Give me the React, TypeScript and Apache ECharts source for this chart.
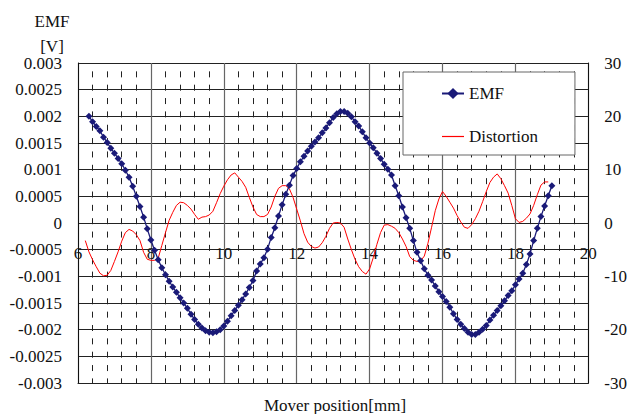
import React, { useEffect, useRef } from "react";
import * as echarts from "echarts";

const positions = [
  6.2, 6.3, 6.4, 6.5, 6.6, 6.7, 6.8, 6.9, 7.0, 7.1, 7.2, 7.3, 7.4, 7.5, 7.6, 7.7, 7.8, 7.9,
  8.0, 8.1, 8.2, 8.3, 8.4, 8.5, 8.6, 8.7, 8.8, 8.9, 9.0, 9.1, 9.2, 9.3, 9.4, 9.5, 9.6, 9.7,
  9.8, 9.9, 10.0, 10.1, 10.2, 10.3, 10.4, 10.5, 10.6, 10.7, 10.8, 10.9, 11.0, 11.1, 11.2,
  11.3, 11.4, 11.5, 11.6, 11.7, 11.8, 11.9, 12.0, 12.1, 12.2, 12.3, 12.4, 12.5, 12.6, 12.7,
  12.8, 12.9, 13.0, 13.1, 13.2, 13.3, 13.4, 13.5, 13.6, 13.7, 13.8, 13.9, 14.0, 14.1, 14.2,
  14.3, 14.4, 14.5, 14.6, 14.7, 14.8, 14.9, 15.0, 15.1, 15.2, 15.3, 15.4, 15.5, 15.6, 15.7,
  15.8, 15.9, 16.0, 16.1, 16.2, 16.3, 16.4, 16.5, 16.6, 16.7, 16.8, 16.9, 17.0, 17.1, 17.2,
  17.3, 17.4, 17.5, 17.6, 17.7, 17.8, 17.9, 18.0, 18.1, 18.2, 18.3, 18.4, 18.5, 18.6, 18.7,
  18.8, 18.9, 19.0,
];

const emfValues = [
  null,
  0.002, 0.0019, 0.00181, 0.00173, 0.00161, 0.00151, 0.0014, 0.00131, 0.00121, 0.00111,
  0.00099, 0.00086, 0.00069, 0.0005, 0.00031, 0.00011, -0.00011, -0.00032, -0.00051, -0.00069,
  -0.00084, -0.00097, -0.00109, -0.0012, -0.0013, -0.0014, -0.0015, -0.0016, -0.00171, -0.00181,
  -0.0019, -0.00197, -0.00202, -0.00205, -0.00206, -0.00204, -0.002, -0.00193, -0.00184, -0.00174,
  -0.00164, -0.00154, -0.00144, -0.00133, -0.00121, -0.00108, -0.0009, -0.00077, -0.00065, -0.00049,
  -0.00027, -0.00009, 0.00013, 0.00034, 0.00054, 0.00071, 0.00089, 0.00102, 0.00115, 0.00125,
  0.00135, 0.00144, 0.00152, 0.0016, 0.00169, 0.00178, 0.00188, 0.00198, 0.00205, 0.00209,
  0.00209, 0.00206, 0.00199, 0.0019, 0.00182, 0.00171, 0.0016, 0.0015, 0.00141, 0.00131,
  0.00121, 0.0011, 0.00101, 0.0009, 0.0007, 0.00051, 0.0003, 0.0001, -0.0001, -0.00033,
  -0.00055, -0.00071, -0.00086, -0.00098, -0.00107, -0.00118, -0.00129, -0.00138, -0.00147, -0.00158,
  -0.0017, -0.00181, -0.0019, -0.00198, -0.00205, -0.00209, -0.00209, -0.00205, -0.00199, -0.00192,
  -0.00182, -0.00173, -0.00164, -0.00155, -0.00146, -0.00136, -0.00127, -0.00116, -0.00105, -0.00094,
  -0.00078, -0.00058, -0.00033, -0.0001, 0.00012, 0.00032, 0.00051, 0.0007,
];

const distortionValues = [
  -3.3, -5.4, -6.9, -8.2, -9.4, -9.9, -9.8, -8.9, -7.2, -5.4, -3.4, -1.8, -1.2, -1.5, -2.2,
  -3.3, -5.5, -6.8, -7.0, -7.0, -6.6, -4.2, -1.8, 0.5, 2.0, 3.3, 3.9, 3.8, 3.3, 2.6, 1.6,
  0.7, 1.1, 1.2, 1.5, 2.2, 3.8, 5.5, 6.9, 8.1, 9.0, 9.4, 8.6, 7.8, 6.7, 4.8, 3.0, 1.6, 1.2,
  1.2, 1.6, 3.0, 5.0, 6.5, 7.0, 7.0, 6.4, 4.8, 2.6, 0.4, -2.0, -3.6, -4.4, -4.7, -4.5, -3.7,
  -2.5, -1.0, 0.0, 0.1, 0.0, -0.8, -3.0, -5.0, -6.8, -8.2, -9.1, -9.6, -8.6, -6.5, -4.0,
  -1.8, -0.4, -0.3, -0.6, -1.0, -1.8, -3.0, -4.4, -6.3, -7.0, -7.2, -7.1, -6.2, -3.8, -0.8,
  2.3, 4.5, 5.9, 5.0, 3.9, 2.8, 1.4, 0.2, -0.8, -1.0, -0.3, 0.8, 2.2, 4.0, 5.9, 7.6, 8.6,
  9.2, 8.3, 7.0, 5.6, 3.3, 0.8, 0.1, 0.3, 0.9, 1.7, 3.3, 5.3, 7.1, 7.7, 7.7, null,
];

const xTicks = { min: 6, max: 20, interval: 2 };
const leftTicks = { min: -0.003, max: 0.003, interval: 0.0005 };
const rightTicks = { min: -30, max: 30, interval: 10 };

const FONT = "Liberation Serif";
const serifText = (size: number) => ({
  fontFamily: FONT,
  fontSize: size,
  color: "#111",
});

export default function App() {
  const ref = useRef<HTMLDivElement>(null);
  useEffect(() => {
    if (!ref.current) return;
    const chart = echarts.init(ref.current, undefined, { renderer: "svg" });
    const emfData = positions.map((x, i) => [x, emfValues[i]]).filter((p) => p[1] !== null);
    const distData = positions
      .map((x, i) => [x, distortionValues[i]])
      .filter((p) => p[1] !== null && p[1] !== undefined);
    chart.setOption({
      animation: false,
      backgroundColor: "#fff",
      textStyle: { fontFamily: FONT, fontSize: 17 },
      grid: { left: 78, top: 63, right: 40, bottom: 31 },
      legend: {
        orient: "vertical",
        left: 403,
        top: 72,
        padding: [13, 37, 10, 38],
        itemGap: 26,
        itemWidth: 22,
        itemHeight: 14,
        backgroundColor: "#fff",
        borderColor: "#666",
        borderWidth: 1,
        textStyle: serifText(17),
        data: [
          { name: "EMF" },
          { name: "Distortion", icon: "path://M0,0 L22,0 L22,1.2 L0,1.2 Z" },
        ],
      },
      xAxis: {
        type: "value",
        min: xTicks.min,
        max: xTicks.max,
        interval: xTicks.interval,
        axisLine: { show: true, onZero: false, lineStyle: { color: "#222", width: 1 } },
        axisTick: { show: false },
        axisLabel: { ...serifText(17), margin: -138 },
        splitLine: { show: true, lineStyle: { color: "#666", width: 1.2 } },
        minorTick: { show: false, splitNumber: 5 },
        minorSplitLine: {
          show: true,
          lineStyle: { color: "#222", width: 1, type: [6, 7.35], dashOffset: 4.5 },
        },
      },
      yAxis: [
        {
          type: "value",
          position: "left",
          min: leftTicks.min,
          max: leftTicks.max,
          interval: leftTicks.interval,
          axisLine: { show: true, lineStyle: { color: "#111", width: 1 } },
          axisTick: { show: false },
          axisLabel: {
            ...serifText(17),
            margin: 16,
            padding: [4, 0, 0, 0],
            formatter: (v: number) => String(+v.toFixed(4)),
          },
          splitLine: { show: true, lineStyle: { color: "#222", width: 1 } },
        },
        {
          type: "value",
          position: "right",
          min: rightTicks.min,
          max: rightTicks.max,
          interval: rightTicks.interval,
          axisLine: { show: true, lineStyle: { color: "#111", width: 1 } },
          axisTick: { show: false },
          axisLabel: { ...serifText(17), margin: 16, padding: [4, 0, 0, 0] },
          splitLine: { show: false },
        },
      ],
      graphic: [
        {
          type: "text",
          x: 52,
          y: 21,
          style: {
            text: "EMF",
            fontFamily: FONT,
            fontSize: 17,
            fill: "#111",
            align: "center",
            verticalAlign: "middle",
          },
        },
        {
          type: "text",
          x: 52,
          y: 46,
          style: {
            text: "[V]",
            fontFamily: FONT,
            fontSize: 17,
            fill: "#111",
            align: "center",
            verticalAlign: "middle",
          },
        },
        {
          type: "text",
          x: 335,
          y: 405,
          style: {
            text: "Mover position[mm]",
            fontFamily: FONT,
            fontSize: 17,
            fill: "#111",
            align: "center",
            verticalAlign: "middle",
          },
        },
      ],
      series: [
        {
          name: "EMF",
          type: "line",
          yAxisIndex: 0,
          data: emfData,
          symbol: "diamond",
          symbolSize: 7,
          showSymbol: true,
          itemStyle: { color: "#1a1a78" },
          lineStyle: { color: "#1a1a78", width: 1.3 },
          z: 3,
        },
        {
          name: "Distortion",
          type: "line",
          yAxisIndex: 1,
          data: distData,
          symbol: "none",
          showSymbol: false,
          itemStyle: { color: "#ff0000" },
          lineStyle: { color: "#ff0000", width: 1 },
          z: 2,
        },
      ],
    });
    return () => chart.dispose();
  }, []);
  return (
    <div
      ref={ref}
      style={{ position: "absolute", left: 0, top: 0, width: 630, height: 414 }}
    />
  );
}
